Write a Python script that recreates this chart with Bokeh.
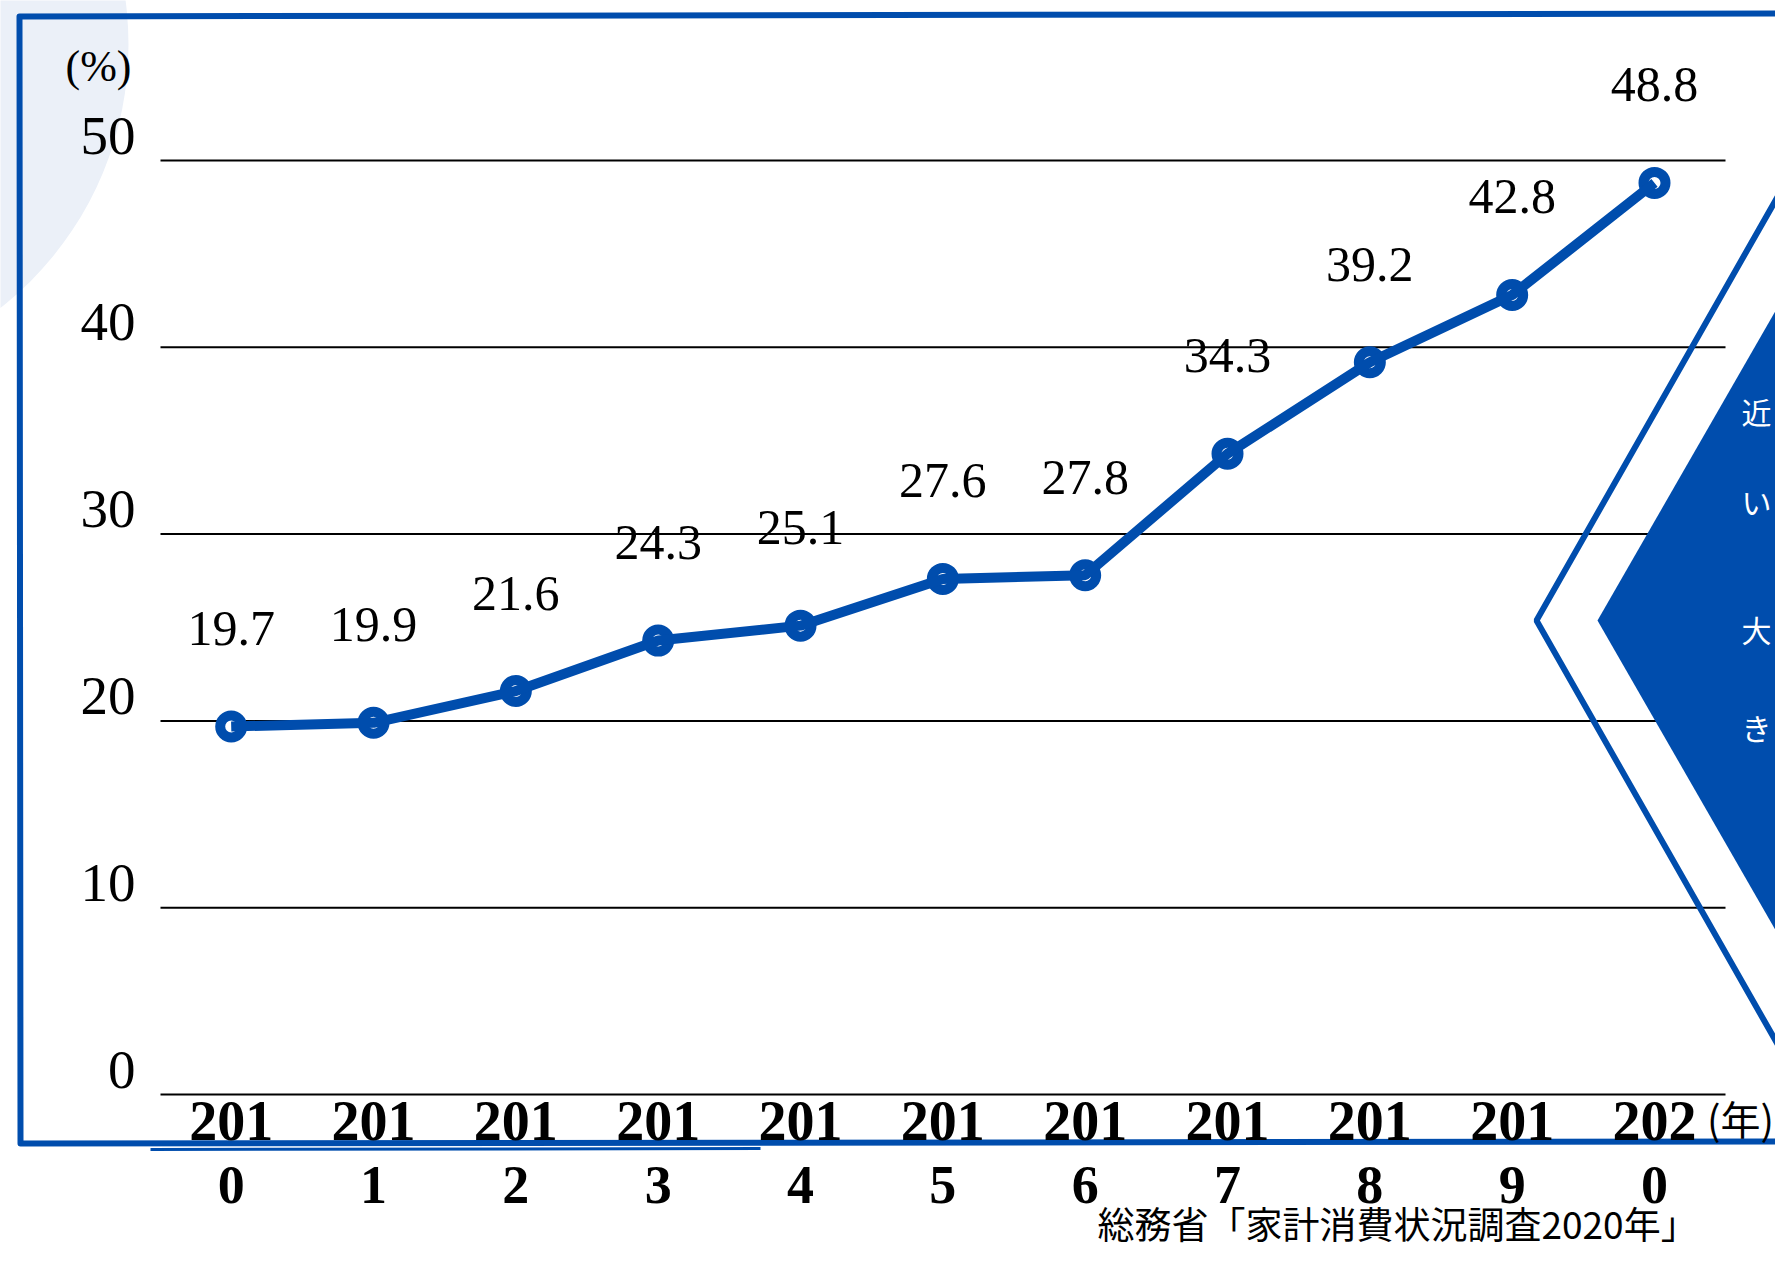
from bokeh.plotting import figure
from bokeh.models import Range1d
from bokeh.core.properties import value
from bokeh.embed import file_html
from bokeh.resources import INLINE

# ---- data ----
years = [2010, 2011, 2012, 2013, 2014, 2015, 2016, 2017, 2018, 2019, 2020]
rates = [19.7, 19.9, 21.6, 24.3, 25.1, 27.6, 27.8, 34.3, 39.2, 42.8, 48.8]
rate_labels = ["19.7", "19.9", "21.6", "24.3", "25.1", "27.6", "27.8", "34.3", "39.2", "42.8", "48.8"]
y_ticks = [0, 10, 20, 30, 40, 50]
y_tick_labels = ["0", "10", "20", "30", "40", "50"]
x_tick_top = ["201", "201", "201", "201", "201", "201", "201", "201", "201", "201", "202"]
x_tick_bottom = ["0", "1", "2", "3", "4", "5", "6", "7", "8", "9", "0"]
y_unit = "(%)"
x_unit = "(年)"
source_note = "総務省「家計消費状況調査2020年」"
side_chars = ["近", "い", "大", "き"]

# ---- styles ----
BLUE = "#004DAD"
LIGHT = "#EBF0F8"
NUM_FONT = value("Liberation Serif")
CJK = value("Noto Sans CJK JP")

W, H = 1775, 1251

# year <-> picture x ; percent <-> picture y
X_AT_2010, PX_PER_YEAR = 230.7, 142.33
Y_AT_0, PX_PER_PCT = 1094.0, 18.68

def yr(sx):
    return 2010 + (sx - X_AT_2010) / PX_PER_YEAR

def pc(sy):
    return (Y_AT_0 - sy) / PX_PER_PCT

p = figure(width=W, height=H,
           x_range=Range1d(yr(0), yr(W)),
           y_range=Range1d(pc(H), pc(0)),
           x_axis_location=None, y_axis_location=None,
           min_border=0, toolbar_location=None, output_backend="svg")
p.extra_x_ranges = {"px": Range1d(0, W)}
p.extra_y_ranges = {"px": Range1d(H, 0)}
p.grid.visible = False
p.outline_line_color = None
p.background_fill_color = "white"
p.border_fill_color = "white"

PX = dict(x_range_name="px", y_range_name="px")

# decorative light circle, top-left
p.ellipse(x=[-207], y=[44], width=[670], height=[670], fill_color=LIGHT,
          line_color=None, **PX)

# gridlines
p.segment(x0=160, x1=1725, y0=y_ticks, y1=y_ticks, line_color="black",
          line_width=2, x_range_name="px")

# hand-drawn frame
p.line(x=[1800, 19, 20, 1800], y=[13, 16, 1143, 1141], line_color=BLUE,
       line_width=6, line_join="round", **PX)
p.line(x=[150, 760], y=[1149, 1148], line_color=BLUE, line_width=3, **PX)

# chevron decoration
p.line(x=[1800, 1536, 1800], y=[156, 620, 1084], line_color=BLUE,
       line_width=6, **PX)
p.patch(x=[1800, 1597, 1800], y=[267, 620, 973], fill_color=BLUE,
        line_color=None, **PX)
p.text(x=[1756] * len(side_chars), y=[410, 500, 628, 726], text=side_chars,
       text_font=CJK, text_font_size="30px", text_color="white",
       text_align="center", text_baseline="middle", **PX)

# axis tick labels
p.text(x=135, y=y_ticks, text=y_tick_labels, x_range_name="px",
       text_font=NUM_FONT, text_font_size="55px", text_color="black",
       text_align="right", text_baseline="middle", y_offset=-25)
p.text(x=[98], y=[66], text=[y_unit], text_font=NUM_FONT, text_font_size="44px",
       text_color="black", text_align="center", text_baseline="middle", **PX)
p.text(x=years, y=[0] * len(years), text=x_tick_top, text_font=NUM_FONT,
       text_font_size="56px", text_font_style="bold", text_color="black",
       text_align="center", text_baseline="middle", y_offset=26)
p.text(x=years, y=[0] * len(years), text=x_tick_bottom, text_font=NUM_FONT,
       text_font_size="54px", text_font_style="bold", text_color="black",
       text_align="center", text_baseline="middle", y_offset=90)
p.text(x=[1740], y=[1117], text=[x_unit], text_font=CJK, text_font_size="40px",
       text_color="black", text_align="center", text_baseline="middle", **PX)

# series
p.scatter(x=years, y=rates, size=22, marker="circle", fill_color="white",
          line_color=BLUE, line_width=10)
p.line(x=years, y=rates, line_color=BLUE, line_width=10)
p.text(x=years, y=rates, text=rate_labels, text_font=NUM_FONT,
       text_font_size="50px", text_color="black", text_align="center",
       text_baseline="middle", y_offset=-98)

# source note
p.text(x=[1097], y=[1249], text=[source_note], text_font=CJK,
       text_font_size="37px", text_color="black", text_align="left",
       text_baseline="bottom", **PX)

open("out.html", "w").write(file_html(p, INLINE))
